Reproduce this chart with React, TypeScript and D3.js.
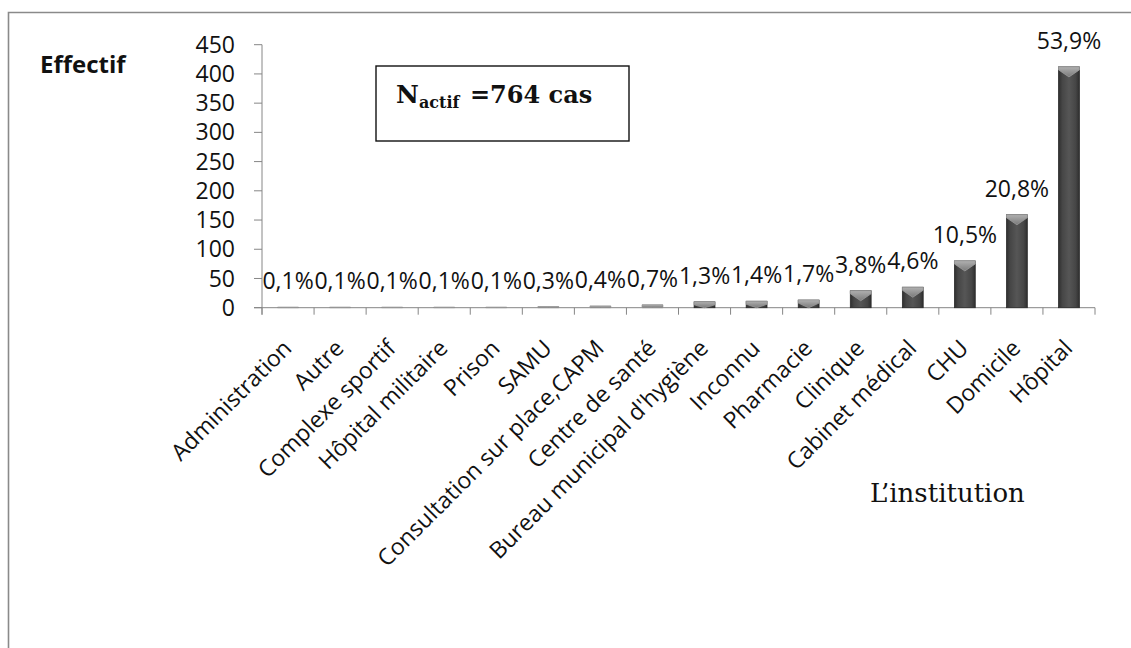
import React from "react";
import * as d3 from "d3";

const categories = [
  "Administration",
  "Autre",
  "Complexe sportif",
  "Hôpital militaire",
  "Prison",
  "SAMU",
  "Consultation sur place,CAPM",
  "Centre de santé",
  "Bureau municipal d'hygiène",
  "Inconnu",
  "Pharmacie",
  "Clinique",
  "Cabinet médical",
  "CHU",
  "Domicile",
  "Hôpital",
];

const counts = [1, 1, 1, 1, 1, 2, 3, 5, 10, 11, 13, 29, 35, 80, 159, 412];

const yTicks = [0, 50, 100, 150, 200, 250, 300, 350, 400, 450];

const total = d3.sum(counts);

const W = 1131;
const H = 648;

const plot = { left: 262, right: 1095, top: 44.7, bottom: 307.7 };

const sansFont = "'Open Sans', 'DejaVu Sans', sans-serif";
const serifFont = "'DejaVu Serif', 'Liberation Serif', serif";
const axisColor = "#868686";

const pct = (v: number) =>
  (Math.round((v / total) * 1000) / 10).toFixed(1).replace(".", ",") + "%";

export default function App() {
  const x = d3
    .scaleBand<string>()
    .domain(categories)
    .range([plot.left, plot.right])
    .padding(0);
  const y = d3.scaleLinear().domain([0, 450]).range([plot.bottom, plot.top]);

  const step = x.step();
  const barW = step * 0.4;
  const boundaries = d3.range(categories.length + 1).map((i) => plot.left + i * step);

  return (
    <svg
      width={W}
      height={H}
      viewBox={`0 0 ${W} ${H}`}
      style={{ position: "absolute", left: 0, top: 0, display: "block", background: "#fff" }}
    >
      <defs>
        <linearGradient id="barBody" x1="0" x2="1" y1="0" y2="0">
          <stop offset="0%" stopColor="#2f2f2f" />
          <stop offset="18%" stopColor="#464646" />
          <stop offset="50%" stopColor="#565656" />
          <stop offset="82%" stopColor="#464646" />
          <stop offset="100%" stopColor="#2f2f2f" />
        </linearGradient>
        <linearGradient id="barCap" x1="0" x2="0" y1="0" y2="1">
          <stop offset="0%" stopColor="#b0b0b0" />
          <stop offset="100%" stopColor="#7a7a7a" />
        </linearGradient>
      </defs>

      {/* outer frame */}
      <path d={`M8.5,${H} V12.5 H${W}`} fill="none" stroke="#8a8a8a" strokeWidth={1.6} />

      {/* y axis */}
      <line x1={plot.left} x2={plot.left} y1={plot.top} y2={plot.bottom + 7} stroke={axisColor} />
      {yTicks.map((t) => (
        <g key={t}>
          <line x1={plot.left - 8} x2={plot.left} y1={y(t)} y2={y(t)} stroke={axisColor} />
          <text
            x={235}
            y={y(t)}
            dy="0.35em"
            textAnchor="end"
            fontFamily={sansFont}
            fontSize={23}
            fill="#111"
          >
            {t}
          </text>
        </g>
      ))}

      {/* x axis */}
      <line x1={plot.left - 8} x2={plot.right} y1={plot.bottom} y2={plot.bottom} stroke={axisColor} />
      {boundaries.map((bx, i) => (
        <line key={i} x1={bx} x2={bx} y1={plot.bottom} y2={plot.bottom + 7} stroke={axisColor} />
      ))}

      {/* bars with bevelled top */}
      {categories.map((c, i) => {
        const v = counts[i];
        const cx = (x(c) as number) + step / 2;
        const top = y(v);
        const h = plot.bottom - top;
        const bx = cx - barW / 2;
        const capH = Math.min(10, h);
        const capEdge = Math.min(3, h);
        return (
          <g key={c}>
            <rect
              x={bx}
              y={top}
              width={barW}
              height={h}
              fill="url(#barBody)"
              stroke="#2a2a2a"
              strokeWidth={h > 3 ? 0.8 : 0}
            />
            <path
              d={`M${bx},${top} H${bx + barW} V${top + capEdge} L${cx},${top + capH} L${bx},${top + capEdge} Z`}
              fill="url(#barCap)"
              stroke="#9a9a9a"
              strokeWidth={0.8}
            />
            <text
              x={cx}
              y={top - 18}
              textAnchor="middle"
              fontFamily={sansFont}
              fontSize={23}
              fill="#111"
            >
              {pct(v)}
            </text>
          </g>
        );
      })}

      {/* category labels */}
      {categories.map((c) => {
        const cx = (x(c) as number) + step / 2;
        return (
          <text
            key={c}
            transform={`translate(${cx + 5},${plot.bottom + 42}) rotate(-45)`}
            textAnchor="end"
            fontFamily={sansFont}
            fontSize={23}
            fill="#111"
          >
            {c}
          </text>
        );
      })}

      {/* axis titles */}
      <text x={40} y={73} fontFamily={sansFont} fontWeight="bold" fontSize={24} fill="#111">
        Effectif
      </text>
      <text x={870} y={502} fontFamily={serifFont} fontSize={26} fill="#111">
        L’institution
      </text>

      {/* sample size box */}
      <rect x={376} y={66} width={253} height={75} fill="#fff" stroke="#111" strokeWidth={1.4} />
      <text fontFamily={serifFont} fontWeight="bold" fill="#111">
        <tspan x={396} y={103} fontSize={25}>N</tspan>
        <tspan x={419} y={108} fontSize={16}>actif</tspan>
        <tspan x={470} y={103} fontSize={24}>{`=${total} cas`}</tspan>
      </text>
    </svg>
  );
}
